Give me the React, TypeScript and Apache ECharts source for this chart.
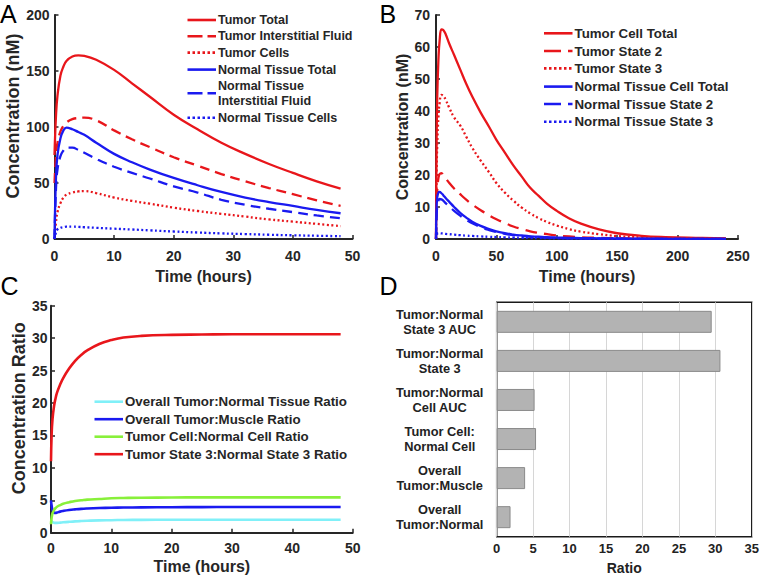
import React, { useEffect, useRef } from 'react';
import * as echarts from 'echarts';

const FONT = '"Liberation Sans", Arial, Helvetica, sans-serif';
const RED = '#e8161b';
const BLUE = '#1a1af0';
const CYAN = '#80f0f8';
const GREEN = '#88f03a';
const INK = '#262626';

// ---------- Panel A : concentrations, 0-48 h ----------
const timeA = [0, 0.25, 0.5, 1, 1.5, 2, 3, 4, 5, 7, 10, 13, 16, 20, 24, 28, 32, 36, 40, 44, 48];
const tumorTotalA = [75, 110, 128, 146, 154, 159, 163, 164, 163.5, 160, 151, 139, 127, 111, 98, 86, 76, 67, 59, 51.5, 45];
const tumorIFA = [50, 75, 86, 96, 101, 104, 107, 108, 108.3, 106, 97, 89, 82, 73, 65.5, 58, 51.5, 45.5, 40, 34.5, 29.5];
const tumorCellsA = [0, 15, 24, 32, 37, 39.5, 41.5, 42.5, 42.8, 41, 37, 34, 31.5, 28, 25, 22.5, 20, 17.5, 15.5, 13.5, 11.5];
const normalTotalA = [0, 55, 75, 90, 97, 99.5, 98, 95.5, 93, 86, 76, 68.5, 62, 54.5, 48, 42, 37, 33, 29.5, 26, 23];
const normalIFA = [0, 45, 62, 74, 79, 81.5, 81.5, 79.5, 77, 71.5, 64.5, 59, 54, 47, 41.5, 35, 30.5, 27, 24, 21, 18.5];
const normalCellsA = [0, 6, 8.5, 10, 10.6, 11, 11, 10.8, 10.5, 10, 9.2, 8.5, 7.7, 6.7, 5.8, 5, 4.4, 3.8, 3.3, 2.9, 2.5];
const namesA = ['Tumor Total', 'Tumor Interstitial Fluid', 'Tumor Cells', 'Normal Tissue Total', 'Normal Tissue\nInterstitial Fluid', 'Normal Tissue Cells'];

// ---------- Panel B : cell states, 0-240 h ----------
const timeB = [0, 0.5, 1, 2, 3, 4.5, 6, 8, 11, 15, 20, 25, 30, 37, 44, 50, 57, 64, 71, 78, 85, 92, 100, 110, 120, 135, 150, 170, 190, 215, 240];
const tumorCellTotalB = [0, 30, 44, 56, 62, 65.5, 65.3, 64, 61, 57.5, 53, 48.5, 44.5, 39.5, 35, 31, 27, 23, 19.5, 16, 13.5, 11, 8.8, 6.5, 4.8, 3, 1.8, 1, 0.6, 0.35, 0.2];
const tumorState2B = [0, 10, 15, 19, 20.3, 20.6, 20, 19, 17.5, 15.8, 14, 12.3, 10.8, 9, 7.4, 6.2, 5, 3.9, 3.1, 2.4, 1.9, 1.5, 1.1, 0.8, 0.55, 0.35, 0.2, 0.1, 0.06, 0.03, 0.02];
const tumorState3B = [0, 20, 29, 38, 42.5, 45, 44.8, 43.5, 41, 38, 35.5, 32, 28.5, 24.5, 20.8, 17.5, 14.5, 12, 9.8, 8, 6.5, 5.3, 4.2, 3.1, 2.3, 1.5, 0.9, 0.5, 0.3, 0.15, 0.08];
const normalCellTotalB = [0, 10, 13, 14.5, 14.7, 14.3, 13.7, 12.8, 11.6, 10, 8.2, 6.7, 5.4, 4.1, 3.1, 2.4, 1.8, 1.4, 1.1, 0.85, 0.7, 0.55, 0.45, 0.35, 0.28, 0.2, 0.15, 0.1, 0.07, 0.05, 0.03];
const normalState2B = [0, 7, 10, 12, 12.5, 12.4, 12, 11.2, 10.2, 8.8, 7.3, 6, 4.9, 3.7, 2.8, 2.2, 1.6, 1.2, 0.9, 0.7, 0.55, 0.42, 0.32, 0.24, 0.18, 0.12, 0.08, 0.05, 0.03, 0.02, 0.01];
const normalState3B = [0, 1.3, 1.6, 1.8, 1.8, 1.75, 1.7, 1.6, 1.5, 1.35, 1.2, 1.05, 0.95, 0.8, 0.68, 0.6, 0.5, 0.43, 0.37, 0.32, 0.27, 0.23, 0.2, 0.16, 0.13, 0.1, 0.07, 0.05, 0.03, 0.02, 0.01];
const namesB = ['Tumor Cell Total', 'Tumor State 2', 'Tumor State 3', 'Normal Tissue Cell Total', 'Normal Tissue State 2', 'Normal Tissue State 3'];

// ---------- Panel C : ratios, 0-48 h ----------
const timeC = [0, 0.1, 0.25, 0.5, 0.75, 1, 1.5, 2, 3, 4, 5, 6, 8, 10, 12, 15, 20, 25, 30, 35, 40, 48];
const ratioTissueC = [1.9, 1.8, 1.65, 1.55, 1.52, 1.52, 1.55, 1.6, 1.68, 1.75, 1.8, 1.84, 1.9, 1.93, 1.96, 1.98, 2.0, 2.0, 2.0, 2.0, 2.0, 2.0];
const ratioMuscleC = [5.0, 4.2, 3.5, 3.1, 3.05, 3.1, 3.25, 3.35, 3.5, 3.6, 3.68, 3.73, 3.8, 3.85, 3.88, 3.9, 3.93, 3.95, 3.96, 3.96, 3.96, 3.96];
const ratioCellC = [1.3, 2.3, 3.0, 3.5, 3.8, 4.0, 4.25, 4.45, 4.7, 4.9, 5.0, 5.1, 5.2, 5.3, 5.35, 5.4, 5.42, 5.45, 5.45, 5.45, 5.45, 5.45];
const ratioState3C = [11, 15, 17.5, 19.5, 20.7, 21.6, 22.8, 23.8, 25.3, 26.5, 27.4, 28.1, 29.1, 29.7, 30.1, 30.35, 30.5, 30.55, 30.6, 30.6, 30.6, 30.6];
const namesC = ['Overall Tumor:Normal Tissue Ratio', 'Overall Tumor:Muscle Ratio', 'Tumor Cell:Normal Cell Ratio', 'Tumor State 3:Normal State 3 Ratio'];

// ---------- Panel D : ratio bars ----------
const categoriesD = ['Overall\nTumor:Normal', 'Overall\nTumor:Muscle', 'Tumor Cell:\nNormal Cell', 'Tumor:Normal\nCell AUC', 'Tumor:Normal\nState 3', 'Tumor:Normal\nState 3 AUC'];
const ratiosD = [1.9, 3.9, 5.4, 5.2, 30.7, 29.5];

const zip = (t: number[], v: number[]) => t.map((x, i) => [x, v[i]]);

function valueAxis(grid: number, min: number, max: number, interval: number, name: string, o: any) {
  return {
    gridIndex: grid,
    type: 'value',
    min,
    max,
    interval,
    name,
    nameLocation: 'middle',
    nameGap: o.nameGap,
    nameTextStyle: { fontSize: o.nameSize, fontWeight: 'bold', color: INK, fontFamily: FONT, padding: o.namePad || 0 },
    axisLine: { show: true, lineStyle: { color: INK, width: 2 } },
    axisTick: { show: true, inside: true, length: 4, lineStyle: { color: INK, width: 1.5 } },
    axisLabel: { fontSize: 14, fontWeight: 'bold', color: INK, fontFamily: FONT, margin: o.margin },
    splitLine: { show: false },
  };
}

function lineSeries(name: string, grid: number, data: number[][], color: string, dash: any, width: number) {
  return {
    name,
    type: 'line',
    xAxisIndex: grid,
    yAxisIndex: grid,
    data,
    showSymbol: false,
    symbol: 'none',
    smooth: 0.45,
    lineStyle: { color, width, type: dash },
    itemStyle: { color },
  };
}

const DASH_A = [10, 6];
const DASH_B = [12, 7];
const DOT = [2, 2.5];

function legendBlock(names: string[], colors: string[], dashes: any[], lx: number, ys: number[], fontSize: number, lineH: number) {
  const els: any[] = [];
  names.forEach((n, i) => {
    els.push({
      type: 'line',
      shape: { x1: lx, y1: ys[i], x2: lx + 28.5, y2: ys[i] },
      style: { stroke: colors[i], lineWidth: 2.6, lineDash: dashes[i] },
      silent: true,
    });
    els.push({
      type: 'text',
      x: lx + 30.5,
      y: ys[i],
      style: {
        text: n,
        fill: INK,
        fontSize,
        fontWeight: 'bold',
        fontFamily: FONT,
        verticalAlign: 'middle',
        align: 'left',
        lineHeight: lineH,
      },
      silent: true,
    });
  });
  return els;
}

function letter(t: string, x: number, y: number) {
  return {
    type: 'text',
    x,
    y,
    style: { text: t, fill: '#000', fontSize: 25, fontFamily: FONT, verticalAlign: 'top', align: 'left' },
    silent: true,
  };
}

export default function App() {
  const ref = useRef<HTMLDivElement>(null);
  useEffect(() => {
    document.body.style.margin = '0';
    if (!ref.current) return;
    const chart = echarts.init(ref.current, null, { renderer: 'svg' });

    const legendColors = [RED, RED, RED, BLUE, BLUE, BLUE];
    const legendDashA = [null, [15, 5], [2.5, 2.5], null, [15, 5], [2.5, 2.5]];
    const legendDashB = [null, [17, 7], [2.5, 2.5], null, [17, 7], [2.5, 2.5]];

    const option: any = {
      animation: false,
      backgroundColor: '#ffffff',
      grid: [
        { left: 54.5, top: 15, width: 298, height: 224 },
        { left: 436, top: 15, width: 302, height: 224 },
        { left: 51, top: 305.7, width: 301.7, height: 227 },
        { left: 496.7, top: 302.3, width: 258.3, height: 234.4, show: true, borderColor: '#1a1a1a', borderWidth: 1.5, backgroundColor: 'transparent' },
      ],
      xAxis: [
        valueAxis(0, 0, 50, 10, 'Time (hours)', { nameGap: 29, nameSize: 16, margin: 10 }),
        valueAxis(1, 0, 250, 50, 'Time (hours)', { nameGap: 29, nameSize: 16, margin: 10 }),
        valueAxis(2, 0, 50, 10, 'Time (hours)', { nameGap: 26, nameSize: 16, margin: 8.5 }),
        {
          gridIndex: 3,
          type: 'value',
          min: 0,
          max: 35,
          interval: 5,
          name: 'Ratio',
          nameLocation: 'middle',
          nameGap: 24,
          nameTextStyle: { fontSize: 14, fontWeight: 'bold', color: '#222', fontFamily: FONT },
          axisLine: { show: false },
          axisTick: { show: false },
          axisLabel: { fontSize: 13, fontWeight: 'bold', color: '#222', fontFamily: FONT, margin: 5 },
          splitLine: { show: true, lineStyle: { color: '#d6d6d6', width: 1 } },
        },
      ],
      yAxis: [
        valueAxis(0, 0, 200, 50, 'Concentration (nM)', { nameGap: 33, nameSize: 18, margin: 5, namePad: [0, 0, 0, 22] }),
        valueAxis(1, 0, 70, 10, 'Concentration (nM)', { nameGap: 22, nameSize: 16, margin: 6 }),
        valueAxis(2, 0, 35, 5, 'Concentration Ratio', { nameGap: 21, nameSize: 18, margin: 3.5, namePad: [0, 0, 0, 22] }),
        {
          gridIndex: 3,
          type: 'category',
          data: categoriesD,
          axisLine: { show: false },
          axisTick: { show: false },
          axisLabel: { fontSize: 12.8, fontWeight: 'bold', color: '#222', fontFamily: FONT, margin: 57, align: 'center', lineHeight: 14.5 },
          splitLine: { show: false },
        },
      ],
      series: [
        lineSeries(namesA[0], 0, zip(timeA, tumorTotalA), RED, 'solid', 2.3),
        lineSeries(namesA[1], 0, zip(timeA, tumorIFA), RED, DASH_A, 2.3),
        lineSeries(namesA[2], 0, zip(timeA, tumorCellsA), RED, DOT, 2.3),
        lineSeries(namesA[3], 0, zip(timeA, normalTotalA), BLUE, 'solid', 2.3),
        lineSeries(namesA[4], 0, zip(timeA, normalIFA), BLUE, DASH_A, 2.3),
        lineSeries(namesA[5], 0, zip(timeA, normalCellsA), BLUE, DOT, 2.3),

        lineSeries(namesB[0], 1, zip(timeB, tumorCellTotalB), RED, 'solid', 2.3),
        lineSeries(namesB[1], 1, zip(timeB, tumorState2B), RED, DASH_B, 2.3),
        lineSeries(namesB[2], 1, zip(timeB, tumorState3B), RED, DOT, 2.3),
        lineSeries(namesB[3], 1, zip(timeB, normalCellTotalB), BLUE, 'solid', 2.3),
        lineSeries(namesB[4], 1, zip(timeB, normalState2B), BLUE, DASH_B, 2.3),
        lineSeries(namesB[5], 1, zip(timeB, normalState3B), BLUE, DOT, 2.3),

        lineSeries(namesC[0], 2, zip(timeC, ratioTissueC), CYAN, 'solid', 2.6),
        lineSeries(namesC[1], 2, zip(timeC, ratioMuscleC), BLUE, 'solid', 2.6),
        lineSeries(namesC[2], 2, zip(timeC, ratioCellC), GREEN, 'solid', 2.6),
        lineSeries(namesC[3], 2, zip(timeC, ratioState3C), RED, 'solid', 2.6),

        {
          name: 'Ratio',
          type: 'bar',
          xAxisIndex: 3,
          yAxisIndex: 3,
          data: ratiosD,
          barWidth: 22,
          itemStyle: { color: '#b3b3b3', borderColor: '#8a8a8a', borderWidth: 1 },
        },
      ],
      graphic: [
        letter('A', 0, 1),
        letter('B', 379.5, 1),
        letter('C', 0.5, 273.5),
        letter('D', 379.5, 273.5),
        ...legendBlock(namesA, legendColors, legendDashA, 187.5, [20, 36.3, 52.6, 69.6, 93.2, 117.7], 12.5, 14.7),
        ...legendBlock(namesB, legendColors, legendDashB, 544, [33.3, 51, 68.4, 86.6, 104, 121.7], 13.3, 15),
        ...legendBlock(namesC, [CYAN, BLUE, GREEN, RED], [null, null, null, null], 94.5, [401.7, 419.2, 436.7, 454.2], 13.3, 15),
      ],
    };

    chart.setOption(option);
    return () => chart.dispose();
  }, []);
  return <div ref={ref} style={{ width: 762, height: 579 }} />;
}
